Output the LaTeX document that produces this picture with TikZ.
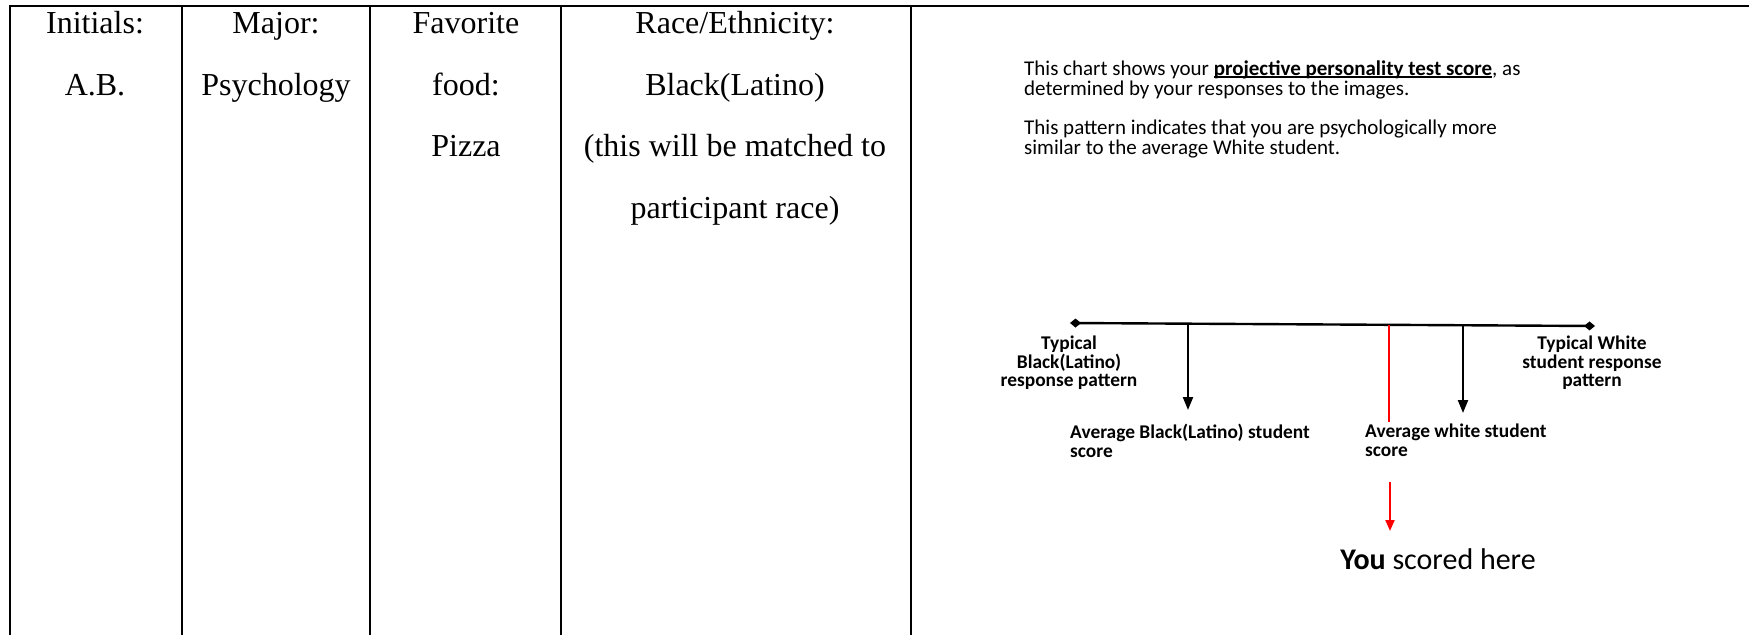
\documentclass[tikz,border=0pt]{standalone}
\usepackage{fontspec}
\setmainfont{Liberation Serif}
\newfontfamily\calib{Carlito}
\usetikzlibrary{arrows.meta}

% underline that sits close to the baseline
\newcommand{\tightul}[1]{\setbox0\hbox{#1}\rlap{\rule[-2.6pt]{\wd0}{1.5pt}}\box0}

\tikzset{
  rule/.style={line width=2.6pt},
  cell/.style={font=\fontsize{32}{38}\selectfont, inner sep=0pt, anchor=base},
  note/.style={font=\calib\fontsize{21}{22}\selectfont, inner sep=0pt, anchor=base west},
  tag/.style={font=\calib\bfseries\fontsize{19.4}{18.5}\selectfont, inner sep=0pt},
  pointer/.style={line width=2.2pt, -{Triangle[length=13pt,width=10pt]}},
  redpointer/.style={line width=2pt, red, -{Triangle[length=11pt,width=9pt]}},
}

\begin{document}
\begin{tikzpicture}[x=1pt,y=-1pt]
\useasboundingbox (0,0) rectangle (1749,635);

% table frame
\draw[rule] (10,635) -- (10,6) -- (1749,6);
\foreach \x in {182,370,561,911}
  \draw[rule] (\x,6) -- (\x,635);

% table cells
\node[cell] (ini)   at (95,33)  {Initials:};
\node[cell] (iniv)  at (95,95)  {A.B.};
\node[cell] (maj)   at (276,33) {Major:};
\node[cell] (majv)  at (276,95) {Psychology};
\node[cell] (fav)   at (466,33) {Favorite};
\node[cell] (fav2)  at (466,95) {food:};
\node[cell] (favv)  at (466,156) {Pizza};
\node[cell] (race)  at (735,33) {Race/Ethnicity:};
\node[cell] (racev) at (735,95) {Black(Latino)};
\node[cell] (race2) at (735,156) {(this will be matched to};
\node[cell] (race3) at (735,218) {participant race)};

% explanation
\node[note] (para1) at (1024,75)  {This chart shows your \tightul{\textbf{projective personality test score}}, as};
\node[note] (para2) at (1024,95)  {determined by your responses to the images.};
\node[note] (para3) at (1024,134) {This pattern indicates that you are psychologically more};
\node[note] (para4) at (1024,154) {similar to the average White student.};

% scale
\coordinate (lowend)  at (1070,323);
\coordinate (highend) at (1595,326);
\coordinate (blackmark) at (1188,323.7);
\coordinate (whitemark) at (1463,325.2);
\coordinate (youmark)   at (1389,324.8);
\coordinate (blacktip)  at (1188,410);
\coordinate (whitetip)  at (1463,413);
\coordinate (redgap)    at (1389,422);
\coordinate (redresume) at (1390,482);
\coordinate (youtip)    at (1390,531);

\draw[line width=2.4pt, {Diamond[length=11pt,width=9pt]}-{Diamond[length=11pt,width=9pt]}] (lowend) -- (highend);

\node[tag, align=center, anchor=north] (lowtag)  at (1069,336) {Typical\\Black(Latino)\\response pattern};
\node[tag, align=center, anchor=north] (hightag) at (1592,336) {Typical White\\student response\\pattern};
\node[tag, align=left, anchor=north west] (blackavg) at (1070,424) {Average Black(Latino) student\\score};
\node[tag, align=left, anchor=north west] (whiteavg) at (1365,424) {Average white student\\score};

\path[pointer] (blackmark) edge (blacktip);
\path[pointer] (whitemark) edge (whitetip);
\draw[line width=2pt, red] (youmark) -- (redgap);
\path[redpointer] (redresume) edge (youtip);

\node[font=\calib\fontsize{30}{36}\selectfont, inner sep=0pt] (you) at (1438,559) {\textbf{You} scored here};
\end{tikzpicture}
\end{document}
